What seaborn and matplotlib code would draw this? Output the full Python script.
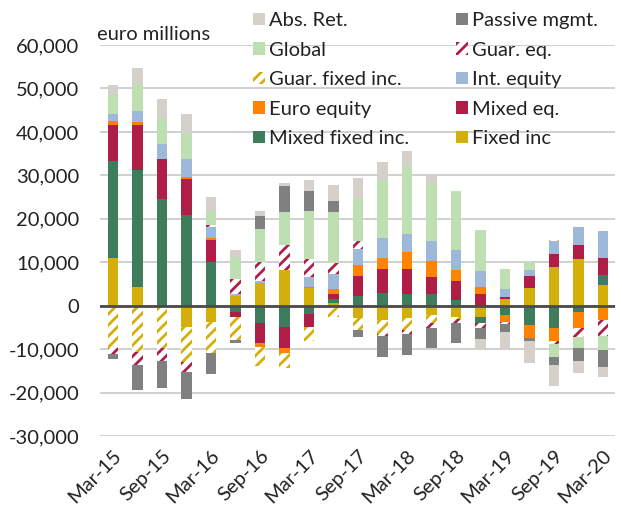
import numpy as np
import pandas as pd
import matplotlib
matplotlib.use("Agg")
import matplotlib.pyplot as plt
import seaborn as sns
from matplotlib.patches import Patch
from matplotlib.ticker import FuncFormatter

# ---------------- data (euro millions) ----------------
quarters = ["Mar-15", "Jun-15", "Sep-15", "Dec-15", "Mar-16", "Jun-16", "Sep-16",
            "Dec-16", "Mar-17", "Jun-17", "Sep-17", "Dec-17", "Mar-18", "Jun-18",
            "Sep-18", "Dec-18", "Mar-19", "Jun-19", "Sep-19", "Dec-19", "Mar-20"]

fixed_inc = [10900, 4200, 0, -5000, -3700, 2300, 5200, 8100, 4000, 600, -2900,
             -3200, -2800, -2100, -2500, -2500, 1500, 4000, 9000, 10700, 4800]
mixed_fixed_inc = [22500, 27100, 24600, 20900, 10000, -1500, -4000, -4800, -1900, 900, 2300,
                   3000, 2700, 2700, 1300, -1400, -2200, -4400, -5200, -1500, 2300]
mixed_eq = [8300, 10400, 9200, 8300, 5100, -1200, -4500, -5000, -2900, 1200, 4600,
            5500, 5800, 4000, 4300, 2700, 500, 2900, 3000, 3200, 3800]
euro_equity = [800, 500, 0, 500, 500, 0, -900, -1000, 400, 1100, 2500,
               2500, 3900, 3500, 2600, 1600, -1500, -3000, -2900, -3700, -3300]
int_equity = [1700, 2500, 3300, 4100, 2600, 300, 400, 0, 2100, 3500, 3700,
              4600, 4100, 4600, 4500, 3700, 1900, 1200, 2800, 4200, 6400]
guar_fixed_inc = [-9800, -10600, -9800, -7900, -7300, -5200, -4500, -3600, -3400, -2500, -2700,
                  -3400, -2800, -2000, -600, 0, 0, 0, 400, 0, 0]
guar_eq = [-1300, -3100, -2900, -2300, 300, 3500, 4400, 5900, 4300, 2500, 1700,
           -400, -900, -1100, -900, -1300, -600, 0, -800, -2100, -3700]
global_ = [4200, 6300, 5900, 5800, 3300, 5200, 7700, 7500, 11100, 11700, 10000,
           13400, 15500, 13300, 13600, 9500, 4600, 1900, -2900, -2500, -3200]
passive_mgmt = [-1200, -5800, -6300, -6300, -4800, -800, 3000, 6100, 4600, 2500, -1700,
                -4800, -4900, -4600, -4700, -2500, -1700, -800, -1800, -3000, -3900]
abs_ret = [2500, 3800, 4500, 4600, 3300, 1600, 1200, 700, 2400, 3700, 4500,
           4100, 3600, 1900, 0, -2300, -4000, -4900, -5000, -2800, -2300]

series_names = ["Fixed inc", "Mixed fixed inc.", "Mixed eq.", "Euro equity", "Int. equity",
                "Guar. fixed inc.", "Guar. eq.", "Global", "Passive mgmt.", "Abs. Ret."]
series_values = [fixed_inc, mixed_fixed_inc, mixed_eq, euro_equity, int_equity,
                 guar_fixed_inc, guar_eq, global_, passive_mgmt, abs_ret]

yticks = [-30000, -20000, -10000, 0, 10000, 20000, 30000, 40000, 50000, 60000]

# ---------------- style ----------------
colors = {
    "Fixed inc": "#D4AF0A",
    "Mixed fixed inc.": "#3E7D5B",
    "Mixed eq.": "#AE1E47",
    "Euro equity": "#FF8200",
    "Int. equity": "#9EB8DA",
    "Guar. fixed inc.": "#D4AF0A",
    "Guar. eq.": "#AE1E47",
    "Global": "#BEDFB2",
    "Passive mgmt.": "#808080",
    "Abs. Ret.": "#D5D1CA",
}
hatched = {"Guar. fixed inc.", "Guar. eq."}

sns.set_theme(style="white")
FONT = ["Lato", "DejaVu Sans"]
plt.rcParams["font.family"] = FONT
plt.rcParams["hatch.linewidth"] = 2.0
FS = 14.5
TXT = "#222222"

df = pd.DataFrame({n: v for n, v in zip(series_names, series_values)}, index=quarters)

fig = plt.figure(figsize=(6.22, 5.18), dpi=100)
ax = fig.add_axes([100 / 622, 1 - 436 / 518, 515 / 622, (436 - 45) / 518])

x = np.arange(len(quarters))
pos_bottom = np.zeros(len(quarters))
neg_bottom = np.zeros(len(quarters))
width = 0.42
for name in series_names:
    vals = df[name].to_numpy(dtype=float)
    pos = np.where(vals > 0, vals, 0)
    neg = np.where(vals < 0, vals, 0)
    c = colors[name]
    if name in hatched:
        kw = dict(facecolor="white", edgecolor=c, hatch="///", linewidth=0)
    else:
        kw = dict(color=c, linewidth=0)
    ax.bar(x, pos, width, bottom=pos_bottom, zorder=3, **kw)
    ax.bar(x, neg, width, bottom=neg_bottom, zorder=3, **kw)
    pos_bottom += pos
    neg_bottom += neg

ax.set_ylim(-30000, 60000)
ax.set_xlim(-0.53, len(quarters) - 0.51)
ax.set_yticks(yticks)
ax.yaxis.set_major_formatter(FuncFormatter(lambda v, p: f"{int(v):,}"))
ax.grid(axis="y", color="#D0D0D0", linewidth=1.4, zorder=0)
ax.axhline(0, color="#4A4A4A", linewidth=2, zorder=4)
for s in ax.spines.values():
    s.set_visible(False)

ax.set_xticks(x[::2])
ax.set_xticklabels(quarters[::2], rotation=45, ha="right", rotation_mode="anchor")
ax.tick_params(axis="x", labelsize=FS, length=0, pad=8, colors=TXT)
ax.tick_params(axis="y", labelsize=FS, length=0, pad=15, colors=TXT)

fig.text(97 / 622, 1 - 35 / 518, "euro millions", fontsize=FS, va="center", ha="left",
         color=TXT, family=FONT)

def handle(name):
    c = colors[name]
    if name in hatched:
        return Patch(facecolor="white", edgecolor=c, hatch="///", linewidth=0)
    return Patch(facecolor=c, linewidth=0)

col1 = ["Abs. Ret.", "Global", "Guar. fixed inc.", "Euro equity", "Mixed fixed inc."]
col2 = ["Passive mgmt.", "Guar. eq.", "Int. equity", "Mixed eq.", "Fixed inc"]
order = col1 + col2
leg = fig.legend([handle(n) for n in order], order, ncol=2, loc="upper left",
                 bbox_to_anchor=(239 / 622, 1 + 2 / 518), frameon=False,
                 fontsize=FS, handlelength=0.6, handleheight=0.6, handletextpad=0.2,
                 labelspacing=0.62, columnspacing=2.3, borderpad=0.2)
for t in leg.get_texts():
    t.set_color(TXT)

fig.savefig("out.png", dpi=100)
